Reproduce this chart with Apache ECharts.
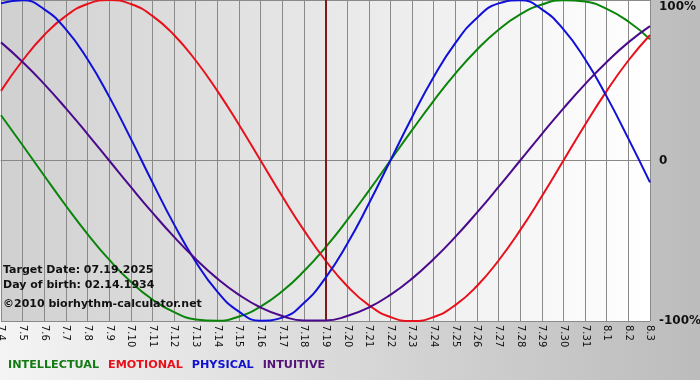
<!DOCTYPE html>
<html>
<head>
<meta charset="utf-8">
<script src="https://cdn.jsdelivr.net/npm/echarts@6/dist/echarts.min.js"></script>
<style>html,body{margin:0;padding:0;}#c{width:700px;height:380px;}</style>
</head>
<body>
<div id="c"></div>
<script>
const days = ['7.4','7.5','7.6','7.7','7.8','7.9','7.10','7.11','7.12','7.13','7.14','7.15','7.16','7.17','7.18','7.19','7.20','7.21','7.22','7.23','7.24','7.25','7.26','7.27','7.28','7.29','7.30','7.31','8.1','8.2','8.3'];
const intellectual = [0.282,0.095,-0.095,-0.282,-0.458,-0.618,-0.756,-0.866,-0.945,-0.990,-0.999,-0.972,-0.910,-0.815,-0.690,-0.541,-0.372,-0.189,0.000,0.189,0.372,0.541,0.690,0.815,0.910,0.972,0.999,0.990,0.945,0.866,0.756];
const emotional = [0.434,0.623,0.782,0.901,0.975,1.000,0.975,0.901,0.782,0.623,0.434,0.223,0.000,-0.223,-0.434,-0.623,-0.782,-0.901,-0.975,-1.000,-0.975,-0.901,-0.782,-0.623,-0.434,-0.223,0.000,0.223,0.434,0.623,0.782];
const physical = [0.979,0.998,0.942,0.817,0.631,0.398,0.136,-0.136,-0.398,-0.631,-0.817,-0.942,-0.998,-0.979,-0.888,-0.731,-0.520,-0.270,0.000,0.270,0.520,0.731,0.888,0.979,0.998,0.942,0.817,0.631,0.398,0.136,-0.136];
const intuitive = [0.736,0.614,0.476,0.325,0.165,0.000,-0.165,-0.325,-0.476,-0.614,-0.736,-0.837,-0.916,-0.969,-0.997,-0.997,-0.969,-0.916,-0.837,-0.736,-0.614,-0.476,-0.325,-0.165,0.000,0.165,0.325,0.476,0.614,0.736,0.837];
const targetDay = '7.19';
const seriesNames = ['INTELLECTUAL','EMOTIONAL','PHYSICAL','INTUITIVE'];
const seriesColors = ['#0a850a','#e8101a','#1010d8','#4b0a8c'];
const legendColors = ['#137a13','#e8101a','#1010d0','#521277'];
const infoLines = ['Target Date: 07.19.2025','Day of birth: 02.14.1934','©2010 biorhythm-calculator.net'];

const chart = echarts.init(document.getElementById('c'), null, {renderer:'canvas'});
const values = [intellectual, emotional, physical, intuitive];
const series = seriesNames.map((n,i)=>({
  name:n, type:'line', data:values[i], smooth:true, symbol:'none',
  lineStyle:{color:seriesColors[i], width:2}, itemStyle:{color:seriesColors[i]},
  z: 3 + i
}));
series[0].markLine = {
  silent:true, symbol:'none', label:{show:false},
  lineStyle:{color:'#7e1a1a', width:2, type:'solid'},
  data:[{xAxis:targetDay}]
};
const option = {
  animation:false,
  backgroundColor:{type:'linear',x:0,y:0,x2:1,y2:0,colorStops:[{offset:0,color:'#f4f4f4'},{offset:1,color:'#bcbcbc'}]},
  grid:{left:1, right:50, top:0, bottom:59, show:true, borderWidth:0, outerBoundsMode:'none', containLabel:false,
    backgroundColor:{type:'linear',x:0,y:0,x2:1,y2:0,colorStops:[{offset:0,color:'#d0d0d0'},{offset:0.95,color:'#fdfdfd'},{offset:1,color:'#ffffff'}]}},
  legend:{
    left:-2, top:355, icon:'none', itemWidth:0, itemHeight:0, itemGap:4, selectedMode:false,
    textStyle:{fontFamily:'DejaVu Sans', fontWeight:'bold', fontSize:11.2},
    data:seriesNames.map((n,i)=>({name:n, textStyle:{color:legendColors[i]}}))
  },
  xAxis:{
    type:'category', data:days, boundaryGap:false,
    axisLine:{show:true, lineStyle:{color:'#888', width:1}},
    axisTick:{show:true, interval:0, length:3, lineStyle:{color:'#888'}},
    splitLine:{show:true, interval:0, lineStyle:{color:'#8a8a8a', width:1}},
    axisLabel:{interval:0, rotate:-90, margin:4, color:'#111', fontSize:10, fontFamily:'DejaVu Sans', hideOverlap:false}
  },
  yAxis:{
    type:'value', position:'right', min:-1, max:1, interval:1,
    axisLine:{show:false}, axisTick:{show:false},
    splitLine:{show:true, lineStyle:{color:'#8a8a8a', width:1}},
    axisLabel:{margin:9, color:'#111', fontSize:12, fontWeight:'bold', fontFamily:'DejaVu Sans',
      formatter:v => v===1 ? '{t|100%}' : (v===0 ? '0' : '-100%'),
      rich:{t:{fontSize:12, fontWeight:'bold', fontFamily:'DejaVu Sans', color:'#111', padding:[14,0,0,0]}}}
  },
  graphic:[
    {type:'text', left:3, top:265, z:100, style:{text:infoLines[0], fill:'#111', font:'bold 11px "DejaVu Sans"'}},
    {type:'text', left:3, top:280, z:100, style:{text:infoLines[1], fill:'#111', font:'bold 11px "DejaVu Sans"'}},
    {type:'text', left:3, top:299, z:100, style:{text:infoLines[2], fill:'#111', font:'bold 11px "DejaVu Sans"'}}
  ],
  series:series
};
chart.setOption(option);
</script>
</body>
</html>
